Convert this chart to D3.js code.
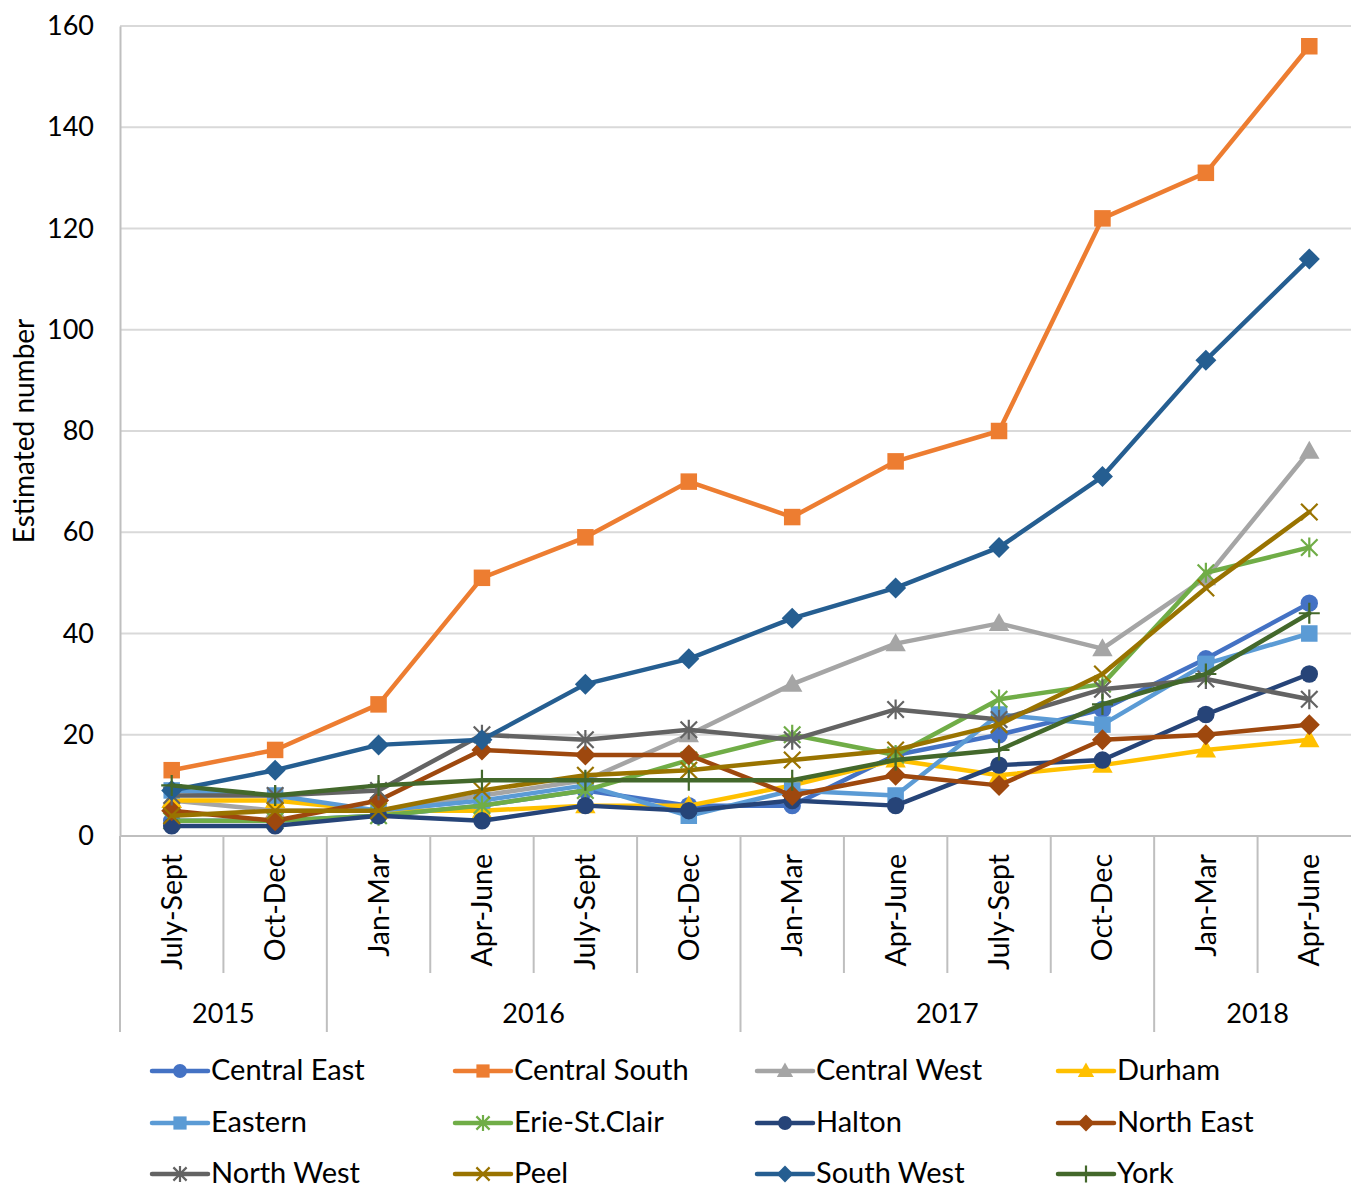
<!DOCTYPE html>
<html>
<head>
<meta charset="utf-8">
<script src="https://cdn.jsdelivr.net/npm/d3@7"></script>
<style>
  html, body { margin: 0; padding: 0; background: #fff; }
  svg { display: block; font-family: Lato, "Open Sans", sans-serif; }
</style>
</head>
<body>
<svg id="chart" width="1351" height="1190"></svg>
<script>
// Quarter labels and the year each belongs to
const quarters = ["July-Sept", "Oct-Dec", "Jan-Mar", "Apr-June", "July-Sept", "Oct-Dec",
                  "Jan-Mar", "Apr-June", "July-Sept", "Oct-Dec", "Jan-Mar", "Apr-June"];
const years = [
  { label: "2015", from: 0, to: 2 },
  { label: "2016", from: 2, to: 6 },
  { label: "2017", from: 6, to: 10 },
  { label: "2018", from: 10, to: 12 }
];
const yTicks = [0, 20, 40, 60, 80, 100, 120, 140, 160];

// Estimated number per region, one value per quarter
const centralEast  = [3, 3, 4, 6, 9, 6, 6, 16, 20, 25, 35, 46];
const centralSouth = [13, 17, 26, 51, 59, 70, 63, 74, 80, 122, 131, 156];
const centralWest  = [7, 5, 5, 8, 11, 20, 30, 38, 42, 37, 51, 76];
const durham       = [7, 7, 5, 5, 6, 6, 10, 15, 12, 14, 17, 19];
const eastern      = [9, 8, 5, 7, 10, 4, 9, 8, 24, 22, 34, 40];
const erieStClair  = [3, 3, 4, 6, 9, 15, 20, 16, 27, 30, 52, 57];
const halton       = [2, 2, 4, 3, 6, 5, 7, 6, 14, 15, 24, 32];
const northEast    = [5, 3, 7, 17, 16, 16, 8, 12, 10, 19, 20, 22];
const northWest    = [8, 8, 9, 20, 19, 21, 19, 25, 23, 29, 31, 27];
const peel         = [4, 5, 5, 9, 12, 13, 15, 17, 22, 32, 49, 64];
const southWest    = [9, 13, 18, 19, 30, 35, 43, 49, 57, 71, 94, 114];
const york         = [10, 8, 10, 11, 11, 11, 11, 15, 17, 26, 32, 44];

const series = [
  { name: "Central East",  values: centralEast,  color: "#4472C4", marker: "circle" },
  { name: "Central South", values: centralSouth, color: "#ED7D31", marker: "square" },
  { name: "Central West",  values: centralWest,  color: "#A5A5A5", marker: "triangle" },
  { name: "Durham",        values: durham,       color: "#FFC000", marker: "triangle" },
  { name: "Eastern",       values: eastern,      color: "#5B9BD5", marker: "square" },
  { name: "Erie-St.Clair", values: erieStClair,  color: "#70AD47", marker: "star" },
  { name: "Halton",        values: halton,       color: "#264478", marker: "circle" },
  { name: "North East",    values: northEast,    color: "#9E480E", marker: "diamond" },
  { name: "North West",    values: northWest,    color: "#636363", marker: "star" },
  { name: "Peel",          values: peel,         color: "#997300", marker: "x" },
  { name: "South West",    values: southWest,    color: "#255E91", marker: "diamond" },
  { name: "York",          values: york,         color: "#43682B", marker: "plus" }
];

const svg = d3.select("#chart");
const plotLeft = 120, plotRight = 1361, plotTop = 26, plotBottom = 836;

const x = d3.scaleBand().domain(d3.range(quarters.length)).range([plotLeft, plotRight]).paddingInner(0).paddingOuter(0);
const y = d3.scaleLinear().domain([0, 160]).range([plotBottom, plotTop]);
const cx = i => x(i) + x.bandwidth() / 2;

// Horizontal gridlines
svg.append("g").selectAll("line").data(yTicks.filter(t => t > 0)).join("line")
  .attr("x1", plotLeft).attr("x2", plotRight)
  .attr("y1", d => y(d)).attr("y2", d => y(d))
  .attr("stroke", "#d9d9d9").attr("stroke-width", 2);

// Y axis
const yAxis = svg.append("g").attr("transform", `translate(${plotLeft},0)`)
  .call(d3.axisLeft(y).tickValues(yTicks).tickSize(0).tickPadding(26));
yAxis.select(".domain").attr("stroke", "#bfbfbf").attr("stroke-width", 2);
yAxis.selectAll("text").attr("font-size", 27).attr("fill", "#000")
  .attr("font-family", "Lato, sans-serif");

svg.append("text")
  .attr("transform", `translate(34,${(plotTop + plotBottom) / 2}) rotate(-90)`)
  .attr("text-anchor", "middle")
  .attr("font-size", 28).attr("fill", "#000")
  .text("Estimated number");

// Category axis: baseline, quarter separators and year separators
const axisG = svg.append("g");
axisG.append("line").attr("x1", plotLeft).attr("x2", plotRight).attr("y1", plotBottom).attr("y2", plotBottom)
  .attr("stroke", "#bfbfbf").attr("stroke-width", 2);
const yearBounds = new Set(years.flatMap(yr => [yr.from, yr.to]));
axisG.selectAll("line.sep").data(d3.range(quarters.length + 1)).join("line")
  .attr("class", "sep")
  .attr("x1", i => i < quarters.length ? x(i) : plotRight)
  .attr("x2", i => i < quarters.length ? x(i) : plotRight)
  .attr("y1", plotBottom)
  .attr("y2", i => yearBounds.has(i) ? 1032 : 973)
  .attr("stroke", "#bfbfbf").attr("stroke-width", 2);

axisG.selectAll("text.q").data(quarters).join("text")
  .attr("class", "q")
  .attr("transform", (d, i) => `translate(${cx(i) + 10},${854}) rotate(-90)`)
  .attr("text-anchor", "end")
  .attr("font-size", 28.5).attr("fill", "#000")
  .text(d => d);

axisG.selectAll("text.yr").data(years).join("text")
  .attr("class", "yr")
  .attr("x", d => (x(d.from) + (d.to < quarters.length ? x(d.to) : plotRight)) / 2)
  .attr("y", 1023)
  .attr("text-anchor", "middle")
  .attr("font-size", 27).attr("fill", "#000")
  .text(d => d.label);

// Marker drawing
function drawMarker(g, type, color, size) {
  const s = size;
  if (type === "circle") {
    g.append("circle").attr("r", s * 0.58).attr("fill", color);
  } else if (type === "square") {
    g.append("rect").attr("x", -s * 0.55).attr("y", -s * 0.55).attr("width", s * 1.1).attr("height", s * 1.1).attr("fill", color);
  } else if (type === "triangle") {
    g.append("path").attr("d", `M0,${-s * 0.7}L${s * 0.68},${s * 0.5}L${-s * 0.68},${s * 0.5}Z`).attr("fill", color);
  } else if (type === "diamond") {
    g.append("path").attr("d", `M0,${-s * 0.7}L${s * 0.7},0L0,${s * 0.7}L${-s * 0.7},0Z`).attr("fill", color);
  } else if (type === "x") {
    const r = s * 0.55;
    g.append("path").attr("d", `M${-r},${-r}L${r},${r}M${-r},${r}L${r},${-r}`)
      .attr("stroke", color).attr("stroke-width", 2.2).attr("fill", "none");
  } else if (type === "star") {
    const r = s * 0.55;
    g.append("path").attr("d", `M${-r},${-r}L${r},${r}M${-r},${r}L${r},${-r}M0,${-r * 1.2}L0,${r * 1.2}`)
      .attr("stroke", color).attr("stroke-width", 2.2).attr("fill", "none");
  } else if (type === "plus") {
    const r = s * 0.7;
    g.append("path").attr("d", `M${-r},0L${r},0M0,${-r}L0,${r}`)
      .attr("stroke", color).attr("stroke-width", 2.2).attr("fill", "none");
  }
}

// Series lines with markers
const line = d3.line().x((d, i) => cx(i)).y(d => y(d));
series.forEach(s => {
  const g = svg.append("g");
  g.append("path").datum(s.values)
    .attr("d", line)
    .attr("fill", "none")
    .attr("stroke", s.color)
    .attr("stroke-width", 4.5)
    .attr("stroke-linejoin", "round")
    .attr("stroke-linecap", "round");
  s.values.forEach((v, i) => {
    const mg = g.append("g").attr("transform", `translate(${cx(i)},${y(v)})`);
    drawMarker(mg, s.marker, s.color, 15);
  });
});

// Legend, four columns by three rows
const legendCols = [152, 455, 757, 1058];
const legendRows = [1071, 1123, 1174];
const legend = svg.append("g");
series.forEach((s, k) => {
  const lx = legendCols[k % 4], ly = legendRows[Math.floor(k / 4)];
  const g = legend.append("g").attr("transform", `translate(${lx},${ly})`);
  g.append("line").attr("x1", 0).attr("x2", 56).attr("y1", 0).attr("y2", 0)
    .attr("stroke", s.color).attr("stroke-width", 4.5).attr("stroke-linecap", "round");
  const mg = g.append("g").attr("transform", "translate(28,0)");
  drawMarker(mg, s.marker, s.color, 12);
  g.append("text").attr("x", 59).attr("y", 9)
    .attr("font-size", 29).attr("fill", "#000")
    .text(s.name);
});
</script>
</body>
</html>
